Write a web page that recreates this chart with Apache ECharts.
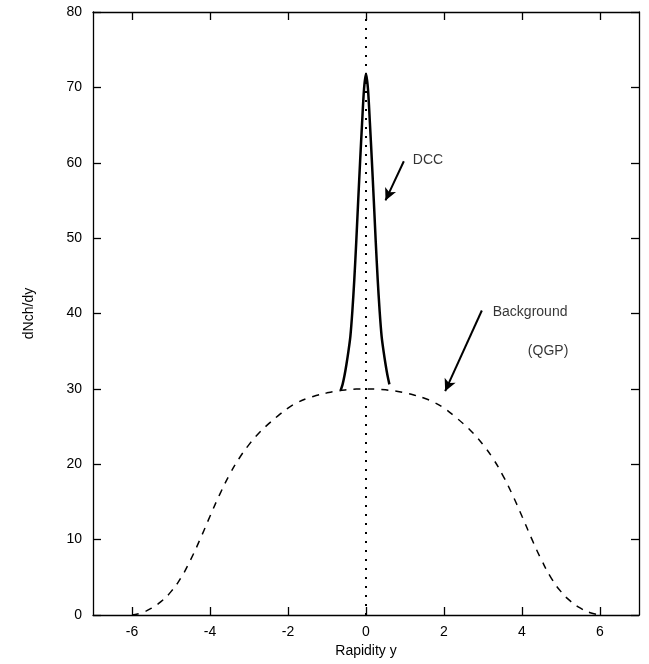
<!DOCTYPE html>
<html>
<head>
<meta charset="utf-8">
<script src="https://cdn.jsdelivr.net/npm/echarts@6/dist/echarts.min.js"></script>
<style>
  html,body{margin:0;padding:0;background:#fff;}
  #main{width:649px;height:664px;}
</style>
</head>
<body>
<div id="main"></div>
<script>
// background (QGP) curve, dashed
var bgX = [-6, -5.75, -5.5, -5.25, -5, -4.75, -4.5, -4.25, -4, -3.75, -3.5, -3.25, -3, -2.75, -2.5, -2.25, -2, -1.75, -1.5, -1.25, -1, -0.75, -0.5, -0.25, 0,
           0.25, 0.5, 0.75, 1, 1.25, 1.5, 1.75, 2, 2.25, 2.5, 2.75, 3, 3.25, 3.5, 3.75, 4, 4.25, 4.5, 4.75, 5, 5.25, 5.5, 5.75, 6];
var bgY = [0, 0.3, 0.9, 1.8, 3.1, 4.9, 7.3, 10.1, 13.1, 16.0, 18.6, 20.8, 22.6, 24.1, 25.35, 26.45, 27.45, 28.2, 28.75, 29.15, 29.47, 29.71, 29.87, 29.97, 30.0,
           29.97, 29.87, 29.71, 29.47, 29.15, 28.75, 28.2, 27.45, 26.45, 25.35, 24.1, 22.6, 20.8, 18.6, 16.0, 13.1, 10.1, 7.3, 4.9, 3.1, 1.8, 0.9, 0.3, 0];

// DCC peak, solid
var dccX = [-0.65, -0.6, -0.55, -0.5, -0.45, -0.4, -0.35, -0.3, -0.25, -0.2, -0.15, -0.1, -0.05, 0,
            0.05, 0.1, 0.15, 0.2, 0.25, 0.3, 0.35, 0.4, 0.45, 0.5, 0.55, 0.6];
var dccY = [29.8, 30.6, 31.8, 33.3, 35.0, 37.0, 40.3, 44.5, 49.5, 55.0, 60.3, 65.3, 69.8, 71.8,
            69.8, 65.3, 60.3, 55.0, 49.5, 44.5, 40.3, 37.0, 35.0, 33.3, 31.8, 30.6];

// vertical dotted line at y = 0
var vlineX = [0, 0];
var vlineY = [0, 80];

// annotations
var labelNames = ['DCC', 'Background', '(QGP)'];
var labelX = [1.2, 3.25, 4.15];
var labelY = [60.3, 40.2, 35.0];
var arrowFrom = [[0.97, 60.2], [2.97, 40.4]];
var arrowTo = [[0.5, 55.0], [2.03, 29.7]];

var xTicks = [-6, -4, -2, 0, 2, 4, 6];

function pairs(xs, ys) {
  var out = [];
  for (var i = 0; i < xs.length; i++) out.push([xs[i], ys[i]]);
  return out;
}

var fontFam = '"Liberation Sans", Arial, sans-serif';
var myChart = echarts.init(document.getElementById('main'));

var axisLine = { show: true, onZero: false, lineStyle: { color: '#000', width: 1.3 } };
var tickIn = { show: true, inside: true, length: 8, lineStyle: { color: '#000', width: 1.3 } };
var tickX = { show: true, inside: true, length: 8, lineStyle: { color: '#000', width: 1.3 }, customValues: xTicks };

var option = {
  animation: false,
  backgroundColor: '#fff',
  grid: { left: 93, right: 10, top: 12, bottom: 49 },
  xAxis: [{
    type: 'value', min: -7, max: 7, interval: 1,
    axisLine: axisLine,
    axisTick: tickX,
    axisLabel: { color: '#000', fontFamily: fontFam, fontSize: 14, margin: 10,
      customValues: xTicks },
    splitLine: { show: false },
    name: 'Rapidity y', nameLocation: 'middle', nameGap: 26,
    nameTextStyle: { color: '#000', fontFamily: fontFam, fontSize: 14 }
  }, {
    type: 'value', min: -7, max: 7, interval: 1, position: 'top',
    axisLine: axisLine,
    axisTick: tickX,
    axisLabel: { show: false },
    splitLine: { show: false }
  }],
  yAxis: [{
    type: 'value', min: 0, max: 80, interval: 10,
    axisLine: axisLine,
    axisTick: tickIn,
    axisLabel: { color: '#000', fontFamily: fontFam, fontSize: 14, margin: 11 },
    splitLine: { show: false },
    name: 'dNch/dy', nameLocation: 'middle', nameGap: 57, nameRotate: 90,
    nameTextStyle: { color: '#000', fontFamily: fontFam, fontSize: 14 }
  }, {
    type: 'value', min: 0, max: 80, interval: 10, position: 'right',
    axisLine: axisLine,
    axisTick: tickIn,
    axisLabel: { show: false },
    splitLine: { show: false }
  }],
  series: [{
    name: 'axis0',
    type: 'line',
    data: pairs(vlineX, vlineY),
    symbol: 'none',
    lineStyle: { color: '#000', width: 2, type: [2, 7] },
    z: 1
  }, {
    name: 'Background',
    type: 'line',
    data: pairs(bgX, bgY),
    smooth: 0.5,
    symbol: 'none',
    lineStyle: { color: '#000', width: 1.5, type: [7, 7] },
    z: 2
  }, {
    name: 'DCC',
    type: 'line',
    data: pairs(dccX, dccY),
    smooth: 0.3,
    symbol: 'none',
    lineStyle: { color: '#000', width: 2.5 },
    z: 3,
    markLine: {
      silent: true,
      symbol: ['none', 'arrow'],
      symbolSize: [9, 12],
      label: { show: false },
      lineStyle: { color: '#000', width: 2, type: 'solid' },
      data: arrowFrom.map(function (p, i) {
        return [{ coord: p }, { coord: arrowTo[i] }];
      })
    }
  }, {
    name: 'labels',
    type: 'scatter',
    symbolSize: 0,
    data: labelNames.map(function (n, i) {
      return { name: n, value: [labelX[i], labelY[i]] };
    }),
    label: {
      show: true, position: 'right', distance: 0,
      formatter: function (p) { return p.name; },
      color: '#000', fontFamily: fontFam, fontSize: 14
    },
    z: 5
  }]
};
myChart.setOption(option);
</script>
</body>
</html>
